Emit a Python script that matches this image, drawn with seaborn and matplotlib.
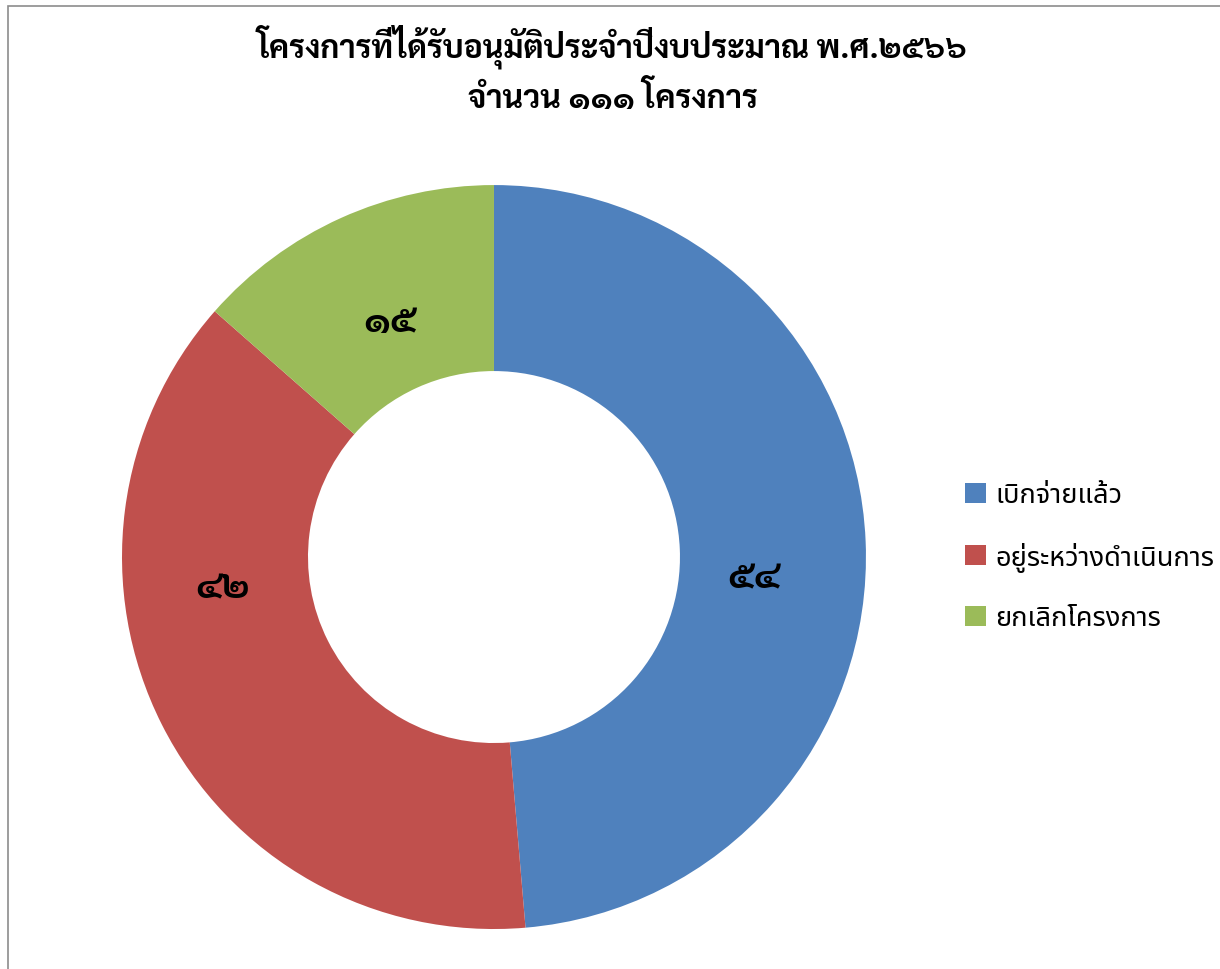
import matplotlib
matplotlib.use("Agg")
import matplotlib.pyplot as plt
import seaborn as sns

categories = ["เบิกจ่ายแล้ว", "อยู่ระหว่างดำเนินการ", "ยกเลิกโครงการ"]
values = [54, 42, 15]
value_labels = ["๕๔", "๔๒", "๑๕"]
title_text = "โครงการที่ได้รับอนุมัติประจำปีงบประมาณ พ.ศ.๒๕๖๖\nจำนวน ๑๑๑ โครงการ"
colors = ["#4F81BD", "#C0504D", "#9BBB59"]

sns.set_theme(style="white")
plt.rcParams["font.family"] = ["Noto Sans Thai", "DejaVu Sans"]
looped = ["Sarabun", "Noto Sans Thai", "DejaVu Sans"]

fig = plt.figure(figsize=(12.2, 9.7), dpi=100)
ax = fig.add_axes([0.1, 0.0412, 0.6098, 0.767])

wedges, _ = ax.pie(values, colors=colors, startangle=90, counterclock=False,
                   radius=1.0, wedgeprops=dict(width=0.5, edgecolor="none"))
ax.set_xlim(-1, 1)
ax.set_ylim(-1, 1)
ax.set_aspect("equal")
ax.axis("off")

label_xy = [(0.70, -0.054), (-0.73, -0.08), (-0.28, 0.634)]
for (x, y), t in zip(label_xy, value_labels):
    ax.text(x, y, t, ha="center", va="center", fontsize=28, fontweight="bold",
            color="black", family=looped)

fig.text(0.502, 0.928, title_text, ha="center", va="center", fontsize=23,
         fontweight="bold", linespacing=1.45, color="black", family=looped)

leg = fig.legend(wedges, categories, loc="center left", bbox_to_anchor=(0.771, 0.425),
                 frameon=False, fontsize=19.6, handlelength=0.75, handleheight=0.75,
                 labelspacing=1.2, handletextpad=0.35)
for t in leg.get_texts():
    t.set_color("black")

fig.add_artist(plt.Rectangle((8 / 1220, -0.1), 1.2, (970 - 7) / 970 + 0.1,
                             transform=fig.transFigure, fill=False,
                             edgecolor="#8c8c8c", linewidth=1.2))
fig.savefig("out.png", dpi=100, facecolor="white")
